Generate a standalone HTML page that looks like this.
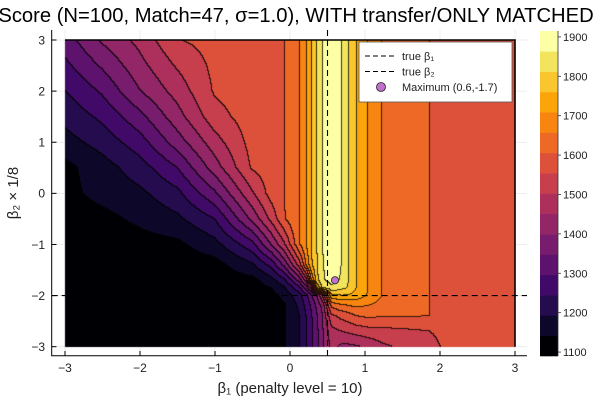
<!DOCTYPE html>
<html><head><meta charset="utf-8">
<style>
body{margin:0;background:#fff;}
#wrap{position:relative;width:600px;height:400px;overflow:hidden;font-family:"Liberation Sans","DejaVu Sans",sans-serif;}
canvas{position:absolute;left:0;top:0;}
svg{position:absolute;left:0;top:0;}
</style></head>
<body>
<div id="wrap">
<svg id="bg" width="600" height="400"></svg>
<canvas id="cv" width="600" height="400"></canvas>
<svg id="sv" width="600" height="400"></svg>
</div>
<script>
// ---- data ----
const gridX = [-3,-2.5,-2,-1.5,-1,-0.5,-0.25,-0.073,0.131,0.22,0.287,0.363,0.438,0.56,0.688,0.786,0.889,1.04,1.232,1.5,1.864,2.3,3];
const gridY = [3,2.5,2,1.5,1,0.5,0,-0.5,-1,-1.4,-1.7,-1.85,-2,-2.2,-2.4,-2.7,-3];
// contour level position (0 = lowest band, 16 = top of colour scale)
const levelGrid = [
[4.5,6.15,7.3,8.96,9.35,9.7,9.88,10,11,12,13,14,15,15.7,15,14,13,12,11,10.5,10,9.6,9.3],
[3.75,5.15,6.67,8.13,9.24,9.65,9.86,10,11,12,13,14,15,15.7,15,14,13,12,11,10.5,10,9.6,9.3],
[2.97,4.15,5.96,7.4,9.11,9.59,9.83,10,11,12,13,14,15,15.7,15,14,13,12,11,10.5,10,9.6,9.3],
[2.3,3.23,4.69,6.6,8.61,9.5,9.8,10,11,12,13,14,15,15.7,15,14,13,12,11,10.5,10,9.6,9.3],
[1.6,2.4,3.56,5.5,7.57,9.37,9.74,10,11,12,13,14,15,15.7,15,14,13,12,11,10.5,10,9.6,9.3],
[0.7,1.57,2.53,4.0,6.5,9.12,9.48,10,11,12,13,14,15,15.7,15,14,13,12,11,10.5,10,9.6,9.3],
[0.7,1.32,1.79,2.73,4.83,7.87,9.4,10,11,12,13,14,15,15.7,15,14,13,12,11,10.5,10,9.6,9.3],
[0.5,0.7,1.22,1.79,3.0,6.27,8.25,9.9,11,12,13,14,15,15.7,15,14,13,12,11,10.5,10,9.6,9.3],
[0.4,0.5,0.6,0.78,1.65,3.67,6.0,7.84,10.9,12,13,14,15,15.7,15,14,13,12,11,10.5,10,9.6,9.3],
[0.3,0.35,0.4,0.45,0.6,1.86,3.33,5.24,8.5,11,12.74,13.9,14.9,15.7,15,14,13,12,11,10.5,10,9.6,9.3],
[0.2,0.25,0.3,0.35,0.45,0.7,1.63,2.82,5.5,7.5,10.85,13.66,14.83,15.4,14.9,14,13,12,11,10.5,10,9.6,9.3],
[0.15,0.2,0.25,0.3,0.35,0.5,1.0,1.84,3.76,5.5,7.35,12.1,14.1,14.8,14.3,13.9,13,12,11,10.5,10,9.6,9.3],
[0.1,0.15,0.2,0.25,0.3,0.4,0.6,1.32,2.67,3.75,4.78,6.05,8.0,12.8,13.0,12.9,12.6,11.95,11.0,10.5,10.0,9.6,9.3],
[0.1,0.12,0.15,0.2,0.25,0.3,0.5,0.85,2.22,3.25,4.1,5.19,6.3,10.3,10.8,11.0,11.2,11.0,10.6,10.4,10.0,9.6,9.3],
[0.1,0.12,0.15,0.2,0.25,0.3,0.5,0.9,2.01,3.0,3.84,4.9,5.97,8.8,9.3,9.6,10.0,10.2,10.1,10.1,10.0,9.5,9.3],
[0.1,0.12,0.15,0.2,0.25,0.3,0.5,0.9,1.95,2.89,3.7,4.74,5.83,7.7,8.0,8.2,8.4,8.6,8.7,8.8,9.0,9.3,9.3],
[0.1,0.12,0.15,0.2,0.25,0.3,0.5,0.9,1.95,2.89,3.7,4.74,5.83,7.3,6.8,6.8,6.9,7.2,7.8,8.2,8.8,9.4,9.3]
];
const scoreMin = 1090;
const scoreMax = 1915;
const colorTicks = [1100,1200,1300,1400,1500,1600,1700,1800,1900];
const xTicks = [-3,-2,-1,0,1,2,3];
const yTicks = [-3,-2,-1,0,1,2,3];
const trueBeta1 = [0.5];
const trueBeta2 = [-2];
const maximumPoint = [0.6,-1.7];
const bandColors = ["#000004","#0d0829","#240c4f","#420a68","#5d126e","#781c6d","#932667","#ad305c","#c73e4c","#dd513a","#ed6925","#f8850f","#fca50a","#fac62d","#f2e55d","#fcffa4"];

// ---- axes ----
const X0=65,X1=515,Y0=40,Y1=346.7;
const sx=v=>X0+(v+3)/6*(X1-X0);
const sy=v=>Y0+(3-v)/6*(Y1-Y0);
const ix=p=>(p-X0)/(X1-X0)*6-3;
const iy=p=>3-(p-Y0)/(Y1-Y0)*6;

function levelAt(x,y){
  let i=0; while(i<gridX.length-2 && x>gridX[i+1]) i++;
  let j=0; while(j<gridY.length-2 && y<gridY[j+1]) j++;
  let tx=(x-gridX[i])/(gridX[i+1]-gridX[i]); tx=Math.max(0,Math.min(1,tx));
  let ty=(gridY[j]-y)/(gridY[j]-gridY[j+1]); ty=Math.max(0,Math.min(1,ty));
  const a=levelGrid[j][i],b=levelGrid[j][i+1],c=levelGrid[j+1][i],d=levelGrid[j+1][i+1];
  return (a*(1-tx)+b*tx)*(1-ty)+(c*(1-tx)+d*tx)*ty;
}
function hex(h){return [parseInt(h.substr(1,2),16),parseInt(h.substr(3,2),16),parseInt(h.substr(5,2),16)];}
const rgb=bandColors.map(hex);

const cv=document.getElementById('cv');
const ctx=cv.getContext('2d');
const px0=Math.round(X0),px1=Math.round(X1),py0=Math.round(Y0),py1=Math.round(Y1);
const W=px1-px0,H=py1-py0;
const band=[];
for(let r=0;r<H;r++){const row=[];for(let c=0;c<W;c++){
  const v=levelAt(ix(px0+c+0.5),iy(py0+r+0.5));
  row.push(Math.max(0,Math.min(15,Math.floor(v))));
} band.push(row);}
const img=ctx.createImageData(W,H);
for(let r=0;r<H;r++)for(let c=0;c<W;c++){
  const b=band[r][c];let col=rgb[b].slice();
  const edge=(c+1<W&&band[r][c+1]!==b)||(r+1<H&&band[r+1][c]!==b);
  if(edge){col=col.map(v=>v*0.2);}
  const k=(r*W+c)*4;img.data[k]=col[0];img.data[k+1]=col[1];img.data[k+2]=col[2];img.data[k+3]=255;
}
ctx.putImageData(img,px0,py0);

// ---- svg ----
const NS='http://www.w3.org/2000/svg';
const sv=document.getElementById('sv');
const bg=document.getElementById('bg');
function el(tag,attrs,parent){const e=document.createElementNS(NS,tag);for(const k in attrs)e.setAttribute(k,attrs[k]);(parent||sv).appendChild(e);return e;}

// grid lines behind the filled area
xTicks.forEach(t=>{
  const g=el('line',{x1:sx(t),x2:sx(t),y1:30,y2:356,stroke:'#e8e8e8','stroke-width':0.8},bg);
  
  
});
yTicks.forEach(t=>{
  const g=el('line',{x1:52,x2:527,y1:sy(t),y2:sy(t),stroke:'#e8e8e8','stroke-width':0.8},bg);
  
  
});
// frame of filled area
const fr=el('path',{d:`M${X0},${Y0} L${X1},${Y0} L${X1},${Y1}`,fill:'none',stroke:'#000','stroke-width':1.6});



// spines
const sp=el('path',{d:'M51.7,30 L51.7,355.7 L527,355.7',fill:'none',stroke:'#000','stroke-width':1});



xTicks.forEach(t=>{
  const tk=el('line',{x1:sx(t),x2:sx(t),y1:355.7,y2:351,stroke:'#000','stroke-width':1});
  
  
  const tx=el('text',{x:sx(t),y:372,'font-size':12,'text-anchor':'middle',fill:'#222'});
  tx.textContent=(t<0?'\u2212'+(-t):String(t));
  
  
});
yTicks.forEach(t=>{
  const tk=el('line',{x1:51.7,x2:56.5,y1:sy(t),y2:sy(t),stroke:'#000','stroke-width':1});
  
  
  const tx=el('text',{x:45,y:sy(t)+4.3,'font-size':12,'text-anchor':'end',fill:'#222'});
  tx.textContent=(t<0?'\u2212'+(-t):String(t));
  
  
});

// true beta lines
trueBeta1.forEach(v=>{
  const l=el('line',{x1:sx(v),x2:sx(v),y1:30,y2:355.7,stroke:'#000','stroke-width':1.1,'stroke-dasharray':'6,4'});
  
  
});
trueBeta2.forEach(v=>{
  const l=el('line',{x1:51.7,x2:527,y1:sy(v),y2:sy(v),stroke:'#000','stroke-width':1.1,'stroke-dasharray':'6,4'});
  
  
});
const mk=el('circle',{cx:sx(maximumPoint[0]),cy:sy(maximumPoint[1]),r:3.6,fill:'#c071cc',stroke:'#222','stroke-width':0.8});



// legend
const lg=el('g',{});


el('rect',{x:359,y:42,width:153,height:60,fill:'#fff',stroke:'#555','stroke-width':0.8},lg);
const legendLabels=['true \u03b2\u2081','true \u03b2\u2082','Maximum (0.6,-1.7)'];
legendLabels.forEach((s,i)=>{
  const yy=56+i*15.5;
  if(i<2){const l=el('line',{x1:365,x2:397,y1:yy,y2:yy,stroke:'#000','stroke-width':1,'stroke-dasharray':'5,3'},lg);
    
    }
  else{const c=el('circle',{cx:381,cy:yy,r:4.5,fill:'#c071cc',stroke:'#222','stroke-width':0.8},lg);
    
    }
  const t=el('text',{x:402,y:yy+4,'font-size':11,fill:'#222'},lg);
  t.textContent=s;
  
  
});

// colorbar
const cbTop=31,cbBot=356,cbX=540,cbW=18;
const cbH=(cbBot-cbTop)/bandColors.length;
bandColors.forEach((c,i)=>{
  const r=el('rect',{x:cbX,y:cbBot-(i+1)*cbH,width:cbW,height:cbH+0.3,fill:c});
  
  
});
const cbl=el('line',{x1:cbX+cbW,x2:cbX+cbW,y1:cbTop,y2:cbBot,stroke:'#333','stroke-width':0.8});


const cy=v=>cbBot-(v-scoreMin)/(scoreMax-scoreMin)*(cbBot-cbTop);
colorTicks.forEach(v=>{
  const tk=el('line',{x1:cbX+cbW,x2:cbX+cbW+3,y1:cy(v),y2:cy(v),stroke:'#333','stroke-width':0.8});
  
  
  const t=el('text',{x:cbX+cbW+5,y:cy(v)+4,'font-size':11,fill:'#222'});
  t.textContent=String(v);
  
  
});

// titles
const ti=el('text',{x:296,y:22,'font-size':20.2,'text-anchor':'middle',fill:'#000'});
ti.textContent='Score (N=100, Match=47, \u03c3=1.0), WITH transfer/ONLY MATCHED';


const xl=el('text',{x:290,y:393,'font-size':15,'text-anchor':'middle',fill:'#222'});
xl.textContent='\u03b2\u2081 (penalty level = 10)';


const yl=el('text',{x:0,y:0,'font-size':15,'text-anchor':'middle',fill:'#222',transform:'translate(18,193) rotate(-90)'});
yl.textContent='\u03b2\u2082 \u00d7 1/8';


</script>
</body></html>
